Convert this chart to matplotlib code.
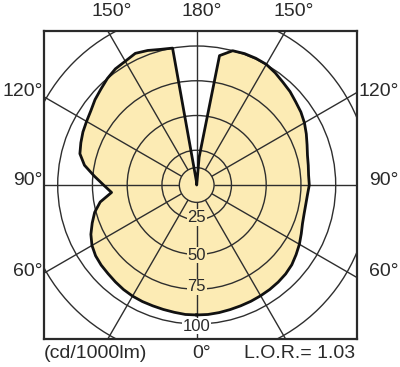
import numpy as np
import matplotlib
matplotlib.use("Agg")
import matplotlib.pyplot as plt
from matplotlib.patches import Circle, Polygon

# ---- data (cd/1000lm) ----
angles = list(range(0, 181, 5))
left_I = [93.5, 93.5, 93, 92.7, 92.5, 92.5, 92.3, 91.8, 91, 90.2,
          89.7, 88.8, 87, 84, 80, 76, 70.5, 61.5, 67, 74,
          82, 87, 88.7, 90.3, 91.5, 93, 95.5, 97.5, 100, 102,
          102.8, 104.5, 103, 101, 100, 3, 0]
right_I = [93.5, 93.5, 93.2, 92.8, 92.5, 92.3, 92, 91.7, 91.2, 90.5,
           89.3, 87.3, 85.3, 83, 81, 80, 79.7, 80, 81, 80.8,
           81.5, 82.5, 84.5, 87, 89.5, 91.5, 93, 95, 96.5, 98.5,
           100.2, 100.6, 100.6, 100, 94.5, 20, 0]
rings = [12.5, 25, 50, 75, 100, 125]
ring_labels = ['25', '50', '75', '100']
angle_labels_left = ['150°', '120°', '90°', '60°']
angle_labels_top = '180°'
angle_label_bottom = '0°'
unit_label = '(cd/1000lm)'
lor_label = 'L.O.R.= 1.03'

plt.rcParams['font.family'] = ['Liberation Sans', 'DejaVu Sans']

W, H = 400, 367
fig = plt.figure(figsize=(W / 100, H / 100), dpi=100)
cx, cy, s = 196.7, 185.0, 1.39
bl, br, bt, bb = 43.7, 357.3, 31.0, 339.3
ax = fig.add_axes([bl / W, (H - bb) / H, (br - bl) / W, (bb - bt) / H])
ax.set_xlim((bl - cx) / s, (br - cx) / s)
ax.set_ylim((cy - bb) / s, (cy - bt) / s)
ax.set_xticks([])
ax.set_yticks([])
for sp in ax.spines.values():
    sp.set_linewidth(1.6)
    sp.set_color('#2a2a2a')

fillc = '#FCEBB4'
gridc = '#2e2e2e'

th = np.radians(angles)
lI = np.array(left_I)
rI = np.array(right_I)
xl = -lI * np.sin(th)
yl = -lI * np.cos(th)
xr = rI * np.sin(th)
yr = -rI * np.cos(th)
xs = np.concatenate([xl, xr[::-1]])
ys = np.concatenate([yl, yr[::-1]])
ax.add_patch(Polygon(np.column_stack([xs, ys]), closed=True, facecolor=fillc,
                     edgecolor='none', zorder=1))

# grid
for r in rings:
    ax.add_patch(Circle((0, 0), r, fill=False, edgecolor=gridc, lw=1.0, zorder=2))
for a in range(0, 360, 30):
    t = np.radians(a)
    ax.plot([12.5 * np.sin(t), 300 * np.sin(t)], [12.5 * np.cos(t), 300 * np.cos(t)],
            color=gridc, lw=1.0, zorder=2, solid_capstyle='butt')

ax.plot(np.append(xs, xs[0]), np.append(ys, ys[0]), color='#111111', lw=2.0,
        zorder=3, solid_joinstyle='round')

# ring labels on the downward axis
label_pos = [23.3, 50.4, 73.3, 101.5]
for lab, p in zip(ring_labels, label_pos):
    fc = 'white' if lab == '100' else fillc
    ax.text(0, -p, lab, ha='center', va='center', fontsize=12, color='#2a2a2a',
            zorder=4, bbox=dict(boxstyle='square,pad=0.05', facecolor=fc, edgecolor='none'))

def ftext(x, y, t, ha='center'):
    fig.text(x / W, 1 - y / H, t, ha=ha, va='center', fontsize=14, color='#2a2a2a')

ftext(112, 11, angle_labels_left[0])
ftext(202, 11, angle_labels_top)
ftext(293.3, 11, angle_labels_left[0])
for lab, y in zip(angle_labels_left[1:], [91.7, 180.8, 271.7]):
    ftext(42.5, y, lab, ha='right')
    ftext(398.5, y, lab, ha='right')
ftext(43.3, 353.3, unit_label, ha='left')
ftext(201.7, 353.3, angle_label_bottom)
ftext(355, 353.3, lor_label, ha='right')

fig.savefig('out.png', dpi=100)
